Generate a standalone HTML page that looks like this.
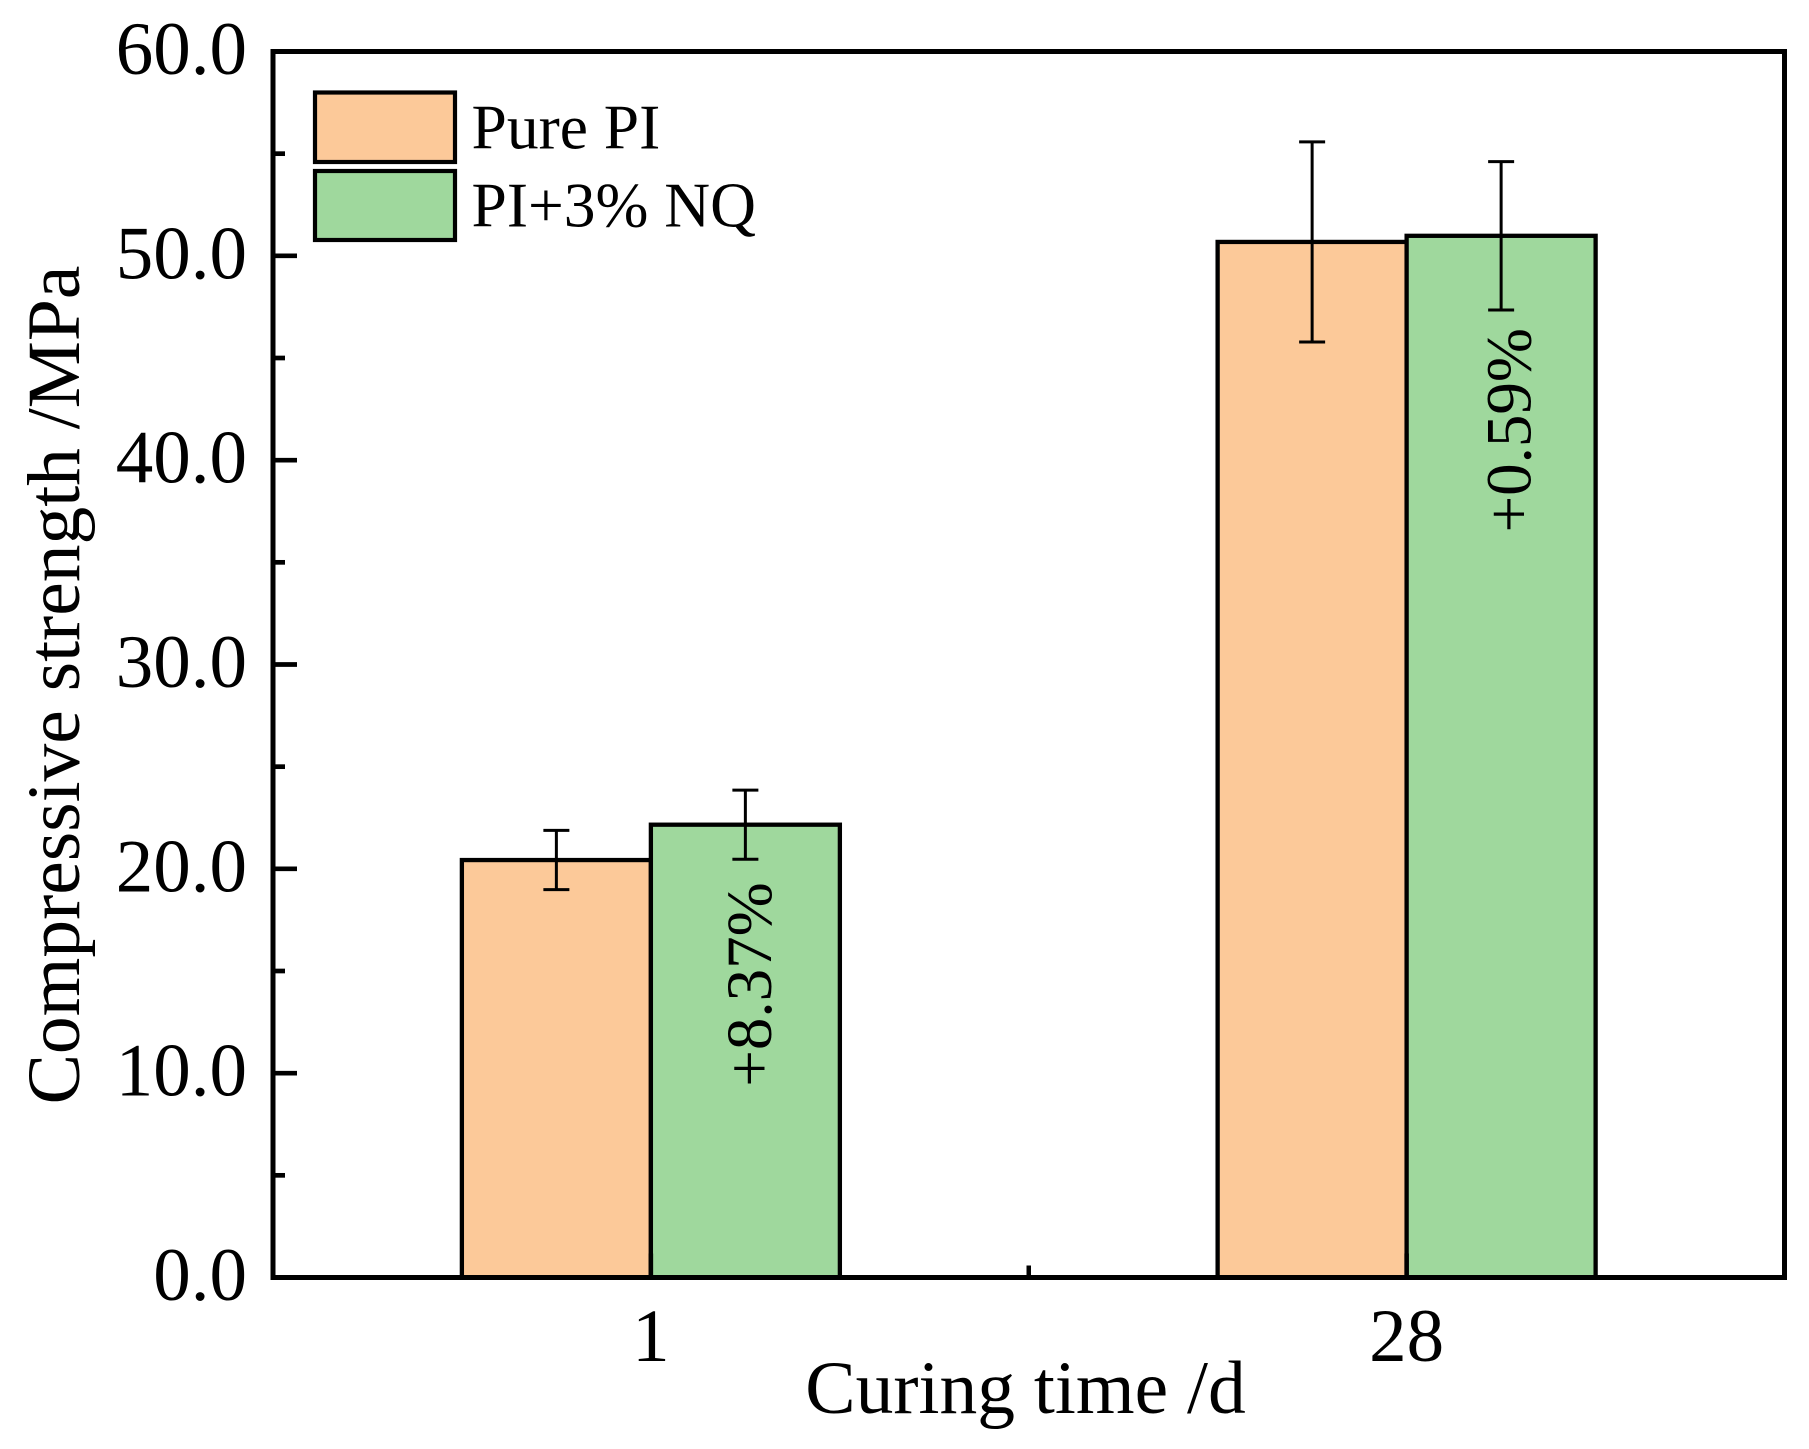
<!DOCTYPE html>
<html lang="en">
<head>
<meta charset="utf-8">
<title>Compressive strength chart</title>
<style>
  html, body { margin: 0; padding: 0; background: #fff; }
  svg { display: block; }
  text { font-family: "Liberation Serif", serif; fill: #000; }
</style>
</head>
<body>
<svg id="chart" xmlns="http://www.w3.org/2000/svg" width="1809" height="1449" viewBox="0 0 1809 1449">
  <rect x="0" y="0" width="1809" height="1449" fill="#ffffff"/>
  <g id="bars"></g>
  <g id="errors"></g>
  <g id="annotations"></g>
  <g id="axes"></g>
  <g>
    <rect x="315" y="92.5" width="140" height="69.5" fill="#fcc999" stroke="#000" stroke-width="4.2"/>
    <text x="471.5" y="148.5" font-size="63.5">Pure PI</text>
    <rect x="315" y="171" width="140" height="69" fill="#9fd89d" stroke="#000" stroke-width="4.2"/>
    <text x="471.5" y="226.5" font-size="63.5">PI+3% NQ</text>
  </g>
  <text x="1025.5" y="1413" font-size="75.5" text-anchor="middle">Curing time /d</text>
  <text x="79" y="685" font-size="75.5" text-anchor="middle" transform="rotate(-90 79 685)">Compressive strength /MPa</text>
</svg>
<script>
const categories = ['1', '28'];
const pureValues = [20.43, 50.68];
const nqValues = [22.16, 50.98];
const pureErrors = [1.45, 4.9];
const nqErrors = [1.69, 3.63];
const annotationLabels = ['+8.37%', '+0.59%'];
const yTickValues = [0, 10, 20, 30, 40, 50, 60];
const yTickLabels = ['0.0', '10.0', '20.0', '30.0', '40.0', '50.0', '60.0'];
const yMinorTickValues = [5, 15, 25, 35, 45, 55];

const plotLeft = 273, plotRight = 1784.5, plotTop = 51.5, plotBottom = 1277.5;
const yMax = 60;
const barWidth = 189;

function yScale(v) {
  return plotBottom - (v / yMax) * (plotBottom - plotTop);
}
function xScale(position) {
  return plotLeft + (position + 0.5) * (plotRight - plotLeft) / categories.length;
}
function make(tag, attrs, parent) {
  const node = document.createElementNS('http://www.w3.org/2000/svg', tag);
  for (const key in attrs) node.setAttribute(key, attrs[key]);
  parent.appendChild(node);
  return node;
}

const barsGroup = document.getElementById('bars');
const errorsGroup = document.getElementById('errors');
const annotationsGroup = document.getElementById('annotations');
const axesGroup = document.getElementById('axes');

function drawBar(left, value, fill, name) {
  const bar = make('rect', { x: left, y: yScale(value), width: barWidth, height: yScale(0) - yScale(value), fill: fill, stroke: '#000', 'stroke-width': 4.3 }, barsGroup);
  
  
}
function drawError(cx, value, err, name) {
  const stem = make('line', { x1: cx, x2: cx, y1: yScale(value + err), y2: yScale(value - err), stroke: '#000', 'stroke-width': 3 }, errorsGroup);
  
  
  const capTop = make('line', { x1: cx - 13, x2: cx + 13, y1: yScale(value + err), y2: yScale(value + err), stroke: '#000', 'stroke-width': 3 }, errorsGroup);
  
  
  const capBottom = make('line', { x1: cx - 13, x2: cx + 13, y1: yScale(value - err), y2: yScale(value - err), stroke: '#000', 'stroke-width': 3 }, errorsGroup);
  
  
}

categories.forEach(function (cat, i) {
  const cx = xScale(i);
  drawBar(cx - barWidth, pureValues[i], '#fcc999', 'bar-pure-pi-day-' + cat);
  drawBar(cx, nqValues[i], '#9fd89d', 'bar-pi-3-nq-day-' + cat);
  drawError(cx - barWidth / 2, pureValues[i], pureErrors[i], 'error-pure-pi-day-' + cat);
  drawError(cx + barWidth / 2, nqValues[i], nqErrors[i], 'error-pi-3-nq-day-' + cat);

  const ax = cx + barWidth / 2 + 25.5 + i * 4;
  const ay = yScale(nqValues[i] - nqErrors[i]) + 23 - i * 5;
  const note = make('text', { x: ax, y: ay, 'font-size': 65, 'text-anchor': 'end', transform: 'rotate(-90 ' + ax + ' ' + ay + ')' }, annotationsGroup);
  note.textContent = annotationLabels[i];
  
  

  const tick = make('line', { x1: cx, x2: cx, y1: plotBottom, y2: plotBottom - 24, stroke: '#000', 'stroke-width': 4.5 }, axesGroup);
  
  
  const label = make('text', { x: cx, y: 1361, 'font-size': 75, 'text-anchor': 'middle' }, axesGroup);
  label.textContent = cat;
  
  
});

const xMinor = make('line', { x1: xScale(0.5), x2: xScale(0.5), y1: plotBottom, y2: plotBottom - 12, stroke: '#000', 'stroke-width': 4.5 }, axesGroup);



yTickValues.forEach(function (v, i) {
  const tick = make('line', { x1: plotLeft, x2: plotLeft + 24, y1: yScale(v), y2: yScale(v), stroke: '#000', 'stroke-width': 4.7 }, axesGroup);
  
  
  const label = make('text', { x: 247, y: yScale(v) + 22.5, 'font-size': 75, 'text-anchor': 'end' }, axesGroup);
  label.textContent = yTickLabels[i];
  
  
});

yMinorTickValues.forEach(function (v) {
  const tick = make('line', { x1: plotLeft, x2: plotLeft + 12, y1: yScale(v), y2: yScale(v), stroke: '#000', 'stroke-width': 4.7 }, axesGroup);
  
  
});

const frame = make('rect', { x: plotLeft, y: plotTop, width: plotRight - plotLeft, height: plotBottom - plotTop, fill: 'none', stroke: '#000', 'stroke-width': 5 }, axesGroup);


</script>
</body>
</html>
